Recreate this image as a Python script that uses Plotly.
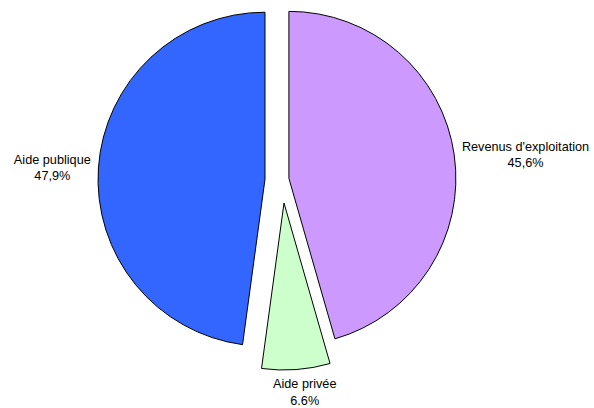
import math
import plotly.graph_objects as go

categories = ["Revenus d'exploitation", "Aide privée", "Aide publique"]
values = [45.6, 6.6, 47.9]
value_labels = ["45,6%", "6.6%", "47,9%"]
colors = ["#CC99FF", "#CCFFCC", "#3366FF"]

# Aide privée is detached further (and along its own offset) than the two large slices
detached = [False, True, False]
pull_main = 0.072

W, H = 594, 408
FONT = "Liberation Sans, Arial, sans-serif"
FSIZE = 12.7
CLEAR = "rgba(0,0,0,0)"

main_domain = dict(x=[77 / W, 477 / W], y=[49 / H, 407 / H])
detached_domain = dict(x=[84 / W, 484 / W], y=[38 / H, 372 / H])


def slice_style(show, with_text):
    fill = [c if s else CLEAR for c, s in zip(colors, show)]
    edge = ["#000000" if s else CLEAR for s in show]
    txt = [f"{c}<br>{v}" if (s and with_text) else "" for c, v, s in zip(categories, value_labels, show)]
    return fill, edge, txt


def pie_trace(show, pull, domain, with_text):
    fill, edge, txt = slice_style(show, with_text)
    return go.Pie(
        labels=categories,
        values=values,
        text=txt,
        textinfo="text",
        textposition="outside",
        textfont=dict(family=FONT, size=FSIZE, color="#000000"),
        marker=dict(colors=fill, line=dict(color=edge, width=1)),
        pull=pull,
        sort=False,
        direction="clockwise",
        rotation=0,
        automargin=False,
        hoverinfo="skip",
        showlegend=False,
        domain=domain,
    )


main_show = [not d for d in detached]
main_pull = [pull_main if s else 0 for s in main_show]

fig = go.Figure()
fig.add_trace(pie_trace(main_show, main_pull, main_domain, True))
fig.add_trace(pie_trace(detached, 0, detached_domain, False))

# centred label under the detached slice, placed from the pie geometry
total = sum(values)
bx0, bx1 = detached_domain["x"][0] * W, detached_domain["x"][1] * W
by0, by1 = (1 - detached_domain["y"][1]) * H, (1 - detached_domain["y"][0]) * H
bcx, bcy = (bx0 + bx1) / 2, (by0 + by1) / 2
br = min(bx1 - bx0, by1 - by0) / 2
for i, s in enumerate(detached):
    if not s:
        continue
    mid = 2 * math.pi * (sum(values[:i]) + values[i] / 2) / total
    px = bcx + br * math.sin(mid) + 8
    py = bcy - br * math.cos(mid) + 5
    fig.add_annotation(
        x=px / W, y=1 - py / H, xref="paper", yref="paper",
        xanchor="center", yanchor="top", align="center", showarrow=False,
        text=f"{categories[i]}<br>{value_labels[i]}",
        font=dict(family=FONT, size=FSIZE, color="#000000"),
    )

fig.update_layout(
    width=W, height=H,
    margin=dict(l=0, r=0, t=0, b=0, autoexpand=False),
    paper_bgcolor="white",
    plot_bgcolor="white",
    font=dict(family=FONT, size=FSIZE, color="#000000"),
)

fig.write_html("out.html", config={"displayModeBar": False},
               post_script="document.body.style.margin='0';")
